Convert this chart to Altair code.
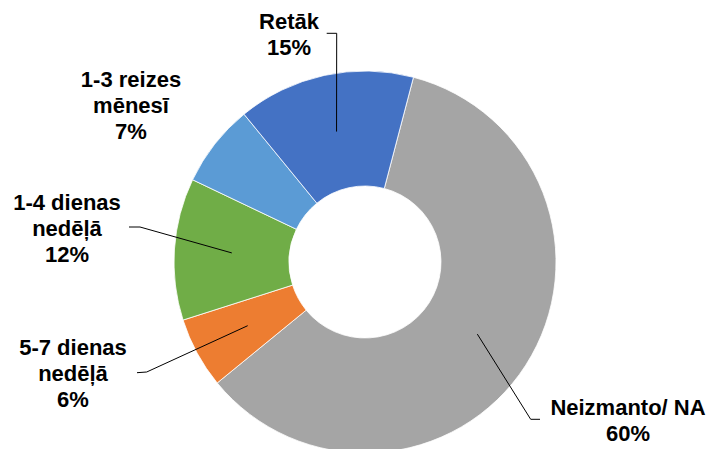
import math
import altair as alt
import pandas as pd

# ---- data ----
categories = ["Neizmanto/ NA", "5-7 dienas nedēļā", "1-4 dienas nedēļā", "1-3 reizes mēnesī", "Retāk"]
label_lines = [["Neizmanto/ NA"], ["5-7 dienas", "nedēļā"], ["1-4 dienas", "nedēļā"], ["1-3 reizes", "mēnesī"], ["Retāk"]]
values = [60, 6, 12, 7, 15]
colors = ["#A5A5A5", "#ED7D31", "#70AD47", "#5B9BD5", "#4472C4"]

# ---- layout (chart pixel coordinates) ----
W, H = 698, 441
CX, CY = 357, 254
R_OUT, R_IN = 191, 76
START_DEG = 14.7
label_xy = [(620, 407), (65, 347), (59, 202), (123, 79), (281, 21)]
# leader: (label end point, elbow point) or None
leaders = [((532, 411.3), (522.7, 411.3)),
           ((129, 364.7), (138.7, 364.0)),
           ((121, 219.0), (132, 219.0)),
           None,
           ((318.7, 25.3), (328.7, 25.3))]

total = sum(values)
a0 = math.radians(START_DEG)

df = pd.DataFrame({
    "cat": categories,
    "value": values,
    "idx": list(range(len(values))),
})

arc = alt.Chart(df).mark_arc(
    outerRadius=R_OUT, innerRadius=R_IN, stroke="white", strokeWidth=0.8
).encode(
    x=alt.value(CX), y=alt.value(CY),
    theta=alt.Theta("value:Q", stack=True,
                    scale=alt.Scale(domain=[0, total], range=[a0, a0 + 2 * math.pi])),
    color=alt.Color("cat:N", scale=alt.Scale(domain=categories, range=colors), legend=None),
    order=alt.Order("idx:Q"),
)

# labels
lab_rows = []
for i, c in enumerate(categories):
    txt = "\n".join(label_lines[i] + [f"{values[i]}%"])
    lab_rows.append({"t": txt, "px": label_xy[i][0], "py": label_xy[i][1]})
lab_df = pd.DataFrame(lab_rows)

labels = alt.Chart(lab_df).mark_text(
    font="Liberation Sans", fontWeight="bold", fontSize=22, lineHeight=26,
    align="center", baseline="alphabetic", lineBreak="\n", color="black"
).encode(
    x=alt.X("px:Q", scale=None), y=alt.Y("py:Q", scale=None), text="t:N"
)

# leader lines: anchored at slice centroid computed from data
seg_rows = []
cum = 0
R_MID = (R_OUT + R_IN) / 2
for i, v in enumerate(values):
    mid = START_DEG + (cum + v / 2) / total * 360
    cum += v
    if leaders[i] is None:
        continue
    ax = CX + R_MID * math.sin(math.radians(mid))
    ay = CY - R_MID * math.cos(math.radians(mid))
    (sx, sy), (ex, ey) = leaders[i]
    seg_rows.append({"x1": sx, "y1": sy, "x2": ex, "y2": ey})
    seg_rows.append({"x1": ex, "y1": ey, "x2": ax, "y2": ay})
seg_df = pd.DataFrame(seg_rows)

rules = alt.Chart(seg_df).mark_rule(color="black", strokeWidth=1).encode(
    x=alt.X("x1:Q", scale=None), y=alt.Y("y1:Q", scale=None),
    x2="x2:Q", y2="y2:Q"
)

chart = alt.layer(arc, rules, labels).properties(
    width=W, height=H, padding=0, autosize=alt.AutoSizeParams(type="none")
).configure_view(stroke=None)

chart.save("out.html", embed_options={"renderer": "svg", "actions": False})
